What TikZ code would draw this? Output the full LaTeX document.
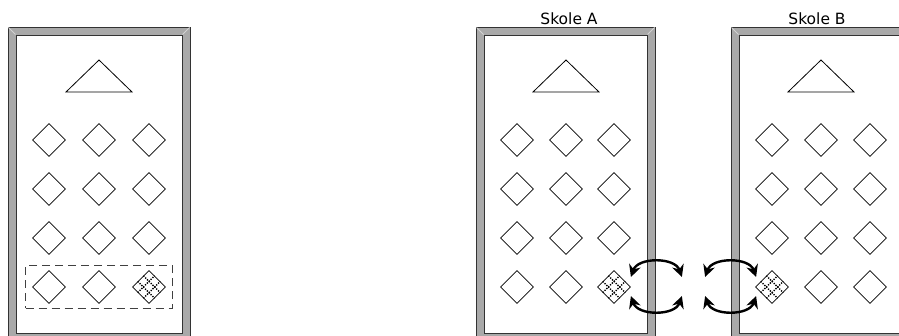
\documentclass[tikz,border=0pt]{standalone}
\usepackage{fontspec}
\setmainfont{DejaVu Sans}
\usepackage{tikz}
\usetikzlibrary{shapes.geometric,arrows.meta,positioning,fit,calc}
\usepackage{xcolor}
\definecolor{wallgray}{HTML}{A9A9A9}
\definecolor{walldark}{HTML}{333333}

\tikzset{
  roomwall/.style={draw=walldark, fill=wallgray, line width=0.9pt},
  roomfloor/.style={draw=walldark, fill=white, line width=0.9pt},
  bevel/.style={draw=gray!35, line width=0.8pt},
  teacher/.style={draw, line width=0.8pt},
  seat/.style={draw, diamond, minimum size=33pt, inner sep=0pt, line width=0.8pt},
  gridline/.style={dash pattern=on 1.3pt off 1.3pt, line width=1.3pt},
  rowbox/.style={draw=black!75, dash pattern=on 8pt off 5pt, line width=0.8pt, inner xsep=6.5pt, inner ysep=4.5pt},
  roomlabel/.style={anchor=base, font=\fontsize{15.5}{18}\selectfont},
  exchange/.style={{Stealth[length=12pt,width=12pt]}-{Stealth[length=12pt,width=12pt]}, line width=2.4pt}
}

% dotted grid inside a marked seat
\newcommand{\gridmark}[1]{%
  \foreach \t in {0.333,0.667} {
    \draw[gridline] ($(#1.west)!\t!(#1.south)$) -- ($(#1.north)!\t!(#1.east)$);
    \draw[gridline] ($(#1.west)!\t!(#1.north)$) -- ($(#1.south)!\t!(#1.east)$);
  }}

\begin{document}
\begin{tikzpicture}[x=1pt,y=-1pt]
  \useasboundingbox (0,0) rectangle (899,336);
  \clip (0,0) rectangle (899,336);

  % one class
  \draw[roomwall] (8,27) rectangle (190,342);
  \draw[roomfloor] (16,35) rectangle (182,333);
  \draw[bevel] (8.5,27.5) -- (15.5,34.5);
  \draw[bevel] (189.5,27.5) -- (182.5,34.5);
  \draw[teacher] (66,92) -- (99,60) -- (132,92) -- cycle;
  \foreach \r/\y in {1/140,2/189,3/238,4/287}
    \foreach \c/\x in {1/49,2/99,3/149}
      \node[seat] (L\r\c) at (\x,\y) {};
  \gridmark{L43}
  \node[rowbox, fit=(L41) (L43)] (lastrow) {};

  % Skole A
  \draw[roomwall] (476,27) rectangle (655,342);
  \draw[roomfloor] (484,35) rectangle (647,333);
  \draw[bevel] (476.5,27.5) -- (483.5,34.5);
  \draw[bevel] (654.5,27.5) -- (647.5,34.5);
  \node[roomlabel] (labelA) at (569,25) {Skole A};
  \draw[teacher] (533,92) -- (566,60) -- (599,92) -- cycle;
  \foreach \r/\y in {1/140,2/189,3/238,4/287}
    \foreach \c/\x in {1/517,2/566,3/614}
      \node[seat] (A\r\c) at (\x,\y) {};
  \gridmark{A43}

  % Skole B
  \draw[roomwall] (731,27) rectangle (911,342);
  \draw[roomfloor] (739,35) rectangle (903,333);
  \draw[bevel] (731.5,27.5) -- (738.5,34.5);
  \node[roomlabel] (labelB) at (817,25) {Skole B};
  \draw[teacher] (788,92) -- (821,60) -- (854,92) -- cycle;
  \foreach \r/\y in {1/140,2/189,3/238,4/287}
    \foreach \c/\x in {1/772,2/821,3/870}
      \node[seat] (B\r\c) at (\x,\y) {};
  \gridmark{B41}

  % exchange arrows
  \coordinate (A-up)    at ($(A43.east)+(0,-10)$);
  \coordinate (A-down)  at ($(A43.east)+(0,9)$);
  \coordinate (Ax-up)   at ($(A43.east)+(51,-10)$);
  \coordinate (Ax-down) at ($(A43.east)+(51,9)$);
  \coordinate (B-up)    at ($(B41.west)+(1,-10)$);
  \coordinate (B-down)  at ($(B41.west)+(1,9)$);
  \coordinate (Bx-up)   at ($(B41.west)+(-50,-10)$);
  \coordinate (Bx-down) at ($(B41.west)+(-50,9)$);
  \draw[exchange] (A-up) .. controls +(7,-20) and +(-7,-20) .. (Ax-up);
  \draw[exchange] (A-down) .. controls +(7,20) and +(-7,20) .. (Ax-down);
  \draw[exchange] (Bx-up) .. controls +(7,-20) and +(-7,-20) .. (B-up);
  \draw[exchange] (Bx-down) .. controls +(7,20) and +(-7,20) .. (B-down);
\end{tikzpicture}
\end{document}
